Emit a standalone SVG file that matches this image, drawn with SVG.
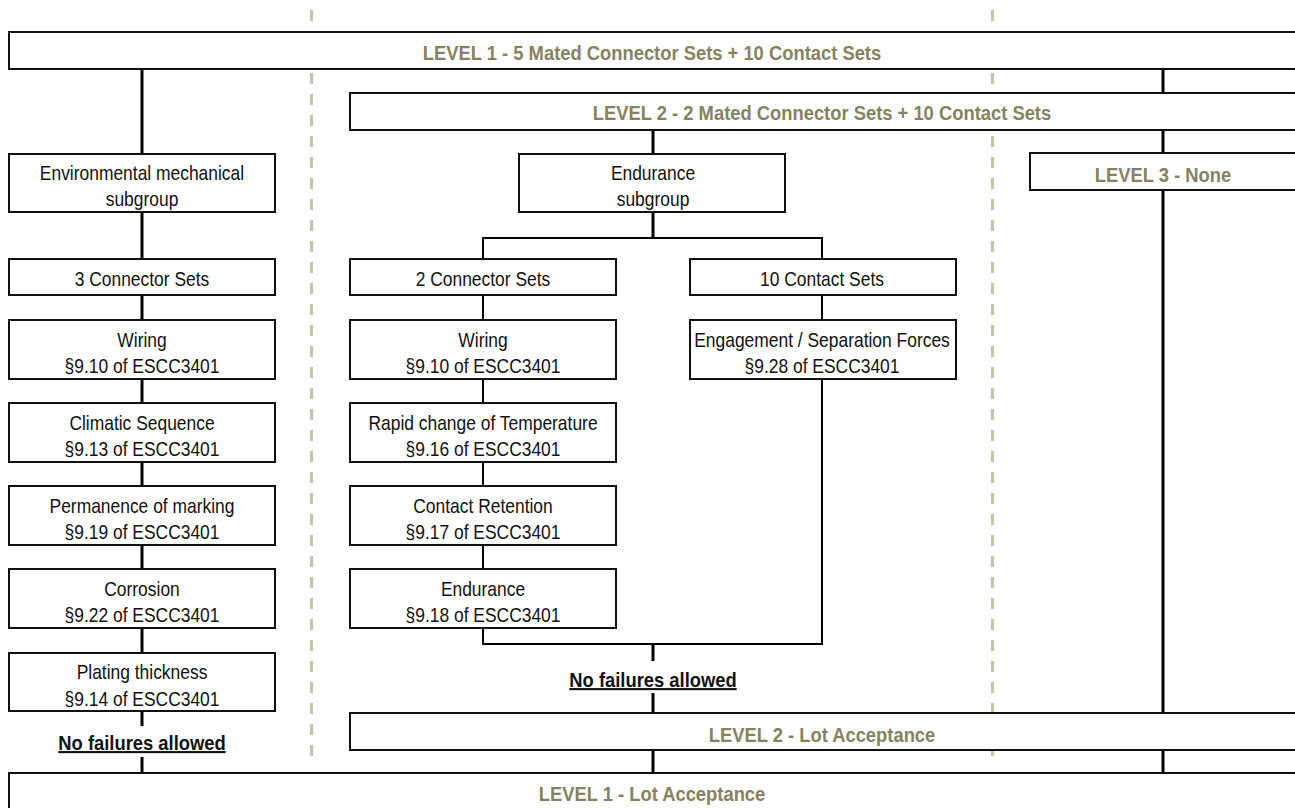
<svg xmlns="http://www.w3.org/2000/svg" width="1295" height="808" viewBox="0 0 1295 808">
<style>
.box{fill:#fff;stroke:#111;stroke-width:2}
.t{font-family:"Liberation Sans",Arial,sans-serif;font-size:20.5px;fill:#111;text-anchor:middle}
.h{font-family:"Liberation Sans",Arial,sans-serif;font-size:21px;font-weight:bold;fill:#85835f;text-anchor:middle}
.nf{font-family:"Liberation Sans",Arial,sans-serif;font-size:21px;font-weight:bold;fill:#111;text-anchor:middle;text-decoration:underline}
.dash{stroke:#c5c2a8;stroke-width:3;stroke-dasharray:11 10;fill:none}
.c{stroke:#000;stroke-width:3;fill:none}
.c2{stroke:#000;stroke-width:2;fill:none}
</style>
<rect width="1295" height="808" fill="#fff"/>
<g id="dividers">
<line class="dash" x1="311.5" y1="10" x2="311.5" y2="765"/>
<line class="dash" x1="992.5" y1="10" x2="992.5" y2="765"/>
</g>
<g id="connectors">
<line class="c" x1="142" y1="69" x2="142" y2="153"/>
<line class="c" x1="142" y1="213" x2="142" y2="258"/>
<line class="c" x1="142" y1="296" x2="142" y2="319"/>
<line class="c" x1="142" y1="380" x2="142" y2="402"/>
<line class="c" x1="142" y1="463" x2="142" y2="485"/>
<line class="c" x1="142" y1="546" x2="142" y2="568"/>
<line class="c" x1="142" y1="629" x2="142" y2="652"/>
<line class="c" x1="142" y1="712" x2="142" y2="726"/>
<line class="c" x1="142" y1="757" x2="142" y2="772"/>
<line class="c" x1="1163" y1="69" x2="1163" y2="92"/>
<line class="c" x1="1163" y1="131" x2="1163" y2="152"/>
<line class="c" x1="1163" y1="191" x2="1163" y2="712"/>
<line class="c" x1="1163" y1="751" x2="1163" y2="772"/>
<line class="c" x1="653" y1="131" x2="653" y2="153"/>
<line class="c" x1="653" y1="213" x2="653" y2="238"/>
<polyline class="c2" points="483,258 483,238 822,238 822,258"/>
<line class="c2" x1="483" y1="296" x2="483" y2="319"/>
<line class="c2" x1="483" y1="380" x2="483" y2="402"/>
<line class="c2" x1="483" y1="463" x2="483" y2="485"/>
<line class="c2" x1="483" y1="546" x2="483" y2="568"/>
<line class="c2" x1="822" y1="296" x2="822" y2="319"/>
<polyline class="c2" points="483,629 483,644 822,644 822,380"/>
<line class="c" x1="653" y1="644" x2="653" y2="661"/>
<line class="c" x1="653" y1="693" x2="653" y2="712"/>
<line class="c" x1="653" y1="751" x2="653" y2="772"/>
</g>
<g id="level1-top"><rect class="box" x="9" y="32" width="1300" height="37"/><text class="h" transform="translate(652 0) scale(0.875 1)" x="0" y="60.5">LEVEL 1 - 5 Mated Connector Sets + 10 Contact Sets</text></g>
<g id="level2-top"><rect class="box" x="350" y="93" width="960" height="37"/><text class="h" transform="translate(822 0) scale(0.875 1)" x="0" y="120.5">LEVEL 2 - 2 Mated Connector Sets + 10 Contact Sets</text></g>
<g id="level3"><rect class="box" x="1030" y="153" width="280" height="37"/><text class="h" transform="translate(1163 0) scale(0.875 1)" x="0" y="182">LEVEL 3 - None</text></g>
<g id="env"><rect class="box" x="9" y="154" width="266" height="58"/><text class="t" transform="translate(142 0) scale(0.85 1)" x="0" y="180">Environmental mechanical</text><text class="t" transform="translate(142 0) scale(0.85 1)" x="0" y="206">subgroup</text></g>
<g id="l-3sets"><rect class="box" x="9" y="259" width="266" height="36"/><text class="t" transform="translate(142 0) scale(0.85 1)" x="0" y="286.5">3 Connector Sets</text></g>
<g id="l-wiring"><rect class="box" x="9" y="320" width="266" height="59"/><text class="t" transform="translate(142 0) scale(0.85 1)" x="0" y="347">Wiring</text><text class="t" transform="translate(142 0) scale(0.85 1)" x="0" y="373.5">§9.10 of ESCC3401</text></g>
<g id="l-climatic"><rect class="box" x="9" y="403" width="266" height="59"/><text class="t" transform="translate(142 0) scale(0.85 1)" x="0" y="430">Climatic Sequence</text><text class="t" transform="translate(142 0) scale(0.85 1)" x="0" y="456.5">§9.13 of ESCC3401</text></g>
<g id="l-marking"><rect class="box" x="9" y="486" width="266" height="59"/><text class="t" transform="translate(142 0) scale(0.85 1)" x="0" y="513">Permanence of marking</text><text class="t" transform="translate(142 0) scale(0.85 1)" x="0" y="539.5">§9.19 of ESCC3401</text></g>
<g id="l-corrosion"><rect class="box" x="9" y="569" width="266" height="59"/><text class="t" transform="translate(142 0) scale(0.85 1)" x="0" y="596">Corrosion</text><text class="t" transform="translate(142 0) scale(0.85 1)" x="0" y="622.5">§9.22 of ESCC3401</text></g>
<g id="l-plating"><rect class="box" x="9" y="653" width="266" height="58"/><text class="t" transform="translate(142 0) scale(0.85 1)" x="0" y="679.5">Plating thickness</text><text class="t" transform="translate(142 0) scale(0.85 1)" x="0" y="706.5">§9.14 of ESCC3401</text></g>
<g id="l-nofail"><text class="nf" transform="translate(142 0) scale(0.875 1)" x="0" y="750">No failures allowed</text></g>
<g id="endurance-sub"><rect class="box" x="519" y="154" width="266" height="58"/><text class="t" transform="translate(653 0) scale(0.85 1)" x="0" y="180">Endurance</text><text class="t" transform="translate(653 0) scale(0.85 1)" x="0" y="206">subgroup</text></g>
<g id="m-2sets"><rect class="box" x="350" y="259" width="266" height="36"/><text class="t" transform="translate(483 0) scale(0.85 1)" x="0" y="286.5">2 Connector Sets</text></g>
<g id="m-wiring"><rect class="box" x="350" y="320" width="266" height="59"/><text class="t" transform="translate(483 0) scale(0.85 1)" x="0" y="347">Wiring</text><text class="t" transform="translate(483 0) scale(0.85 1)" x="0" y="373.5">§9.10 of ESCC3401</text></g>
<g id="m-rapid"><rect class="box" x="350" y="403" width="266" height="59"/><text class="t" transform="translate(483 0) scale(0.85 1)" x="0" y="430">Rapid change of Temperature</text><text class="t" transform="translate(483 0) scale(0.85 1)" x="0" y="456.5">§9.16 of ESCC3401</text></g>
<g id="m-retention"><rect class="box" x="350" y="486" width="266" height="59"/><text class="t" transform="translate(483 0) scale(0.85 1)" x="0" y="513">Contact Retention</text><text class="t" transform="translate(483 0) scale(0.85 1)" x="0" y="539.5">§9.17 of ESCC3401</text></g>
<g id="m-endurance"><rect class="box" x="350" y="569" width="266" height="59"/><text class="t" transform="translate(483 0) scale(0.85 1)" x="0" y="596">Endurance</text><text class="t" transform="translate(483 0) scale(0.85 1)" x="0" y="622.5">§9.18 of ESCC3401</text></g>
<g id="r-10sets"><rect class="box" x="690" y="259" width="266" height="36"/><text class="t" transform="translate(822 0) scale(0.85 1)" x="0" y="286.5">10 Contact Sets</text></g>
<g id="r-engagement"><rect class="box" x="690" y="320" width="266" height="59"/><text class="t" transform="translate(822 0) scale(0.85 1)" x="0" y="347">Engagement / Separation Forces</text><text class="t" transform="translate(822 0) scale(0.85 1)" x="0" y="373.5">§9.28 of ESCC3401</text></g>
<g id="m-nofail"><text class="nf" transform="translate(653 0) scale(0.875 1)" x="0" y="687">No failures allowed</text></g>
<g id="level2-lot"><rect class="box" x="350" y="713" width="960" height="37"/><text class="h" transform="translate(822 0) scale(0.875 1)" x="0" y="742">LEVEL 2 - Lot Acceptance</text></g>
<g id="level1-lot"><rect class="box" x="9" y="773" width="1300" height="50"/><text class="h" transform="translate(652 0) scale(0.875 1)" x="0" y="801">LEVEL 1 - Lot Acceptance</text></g>
</svg>
